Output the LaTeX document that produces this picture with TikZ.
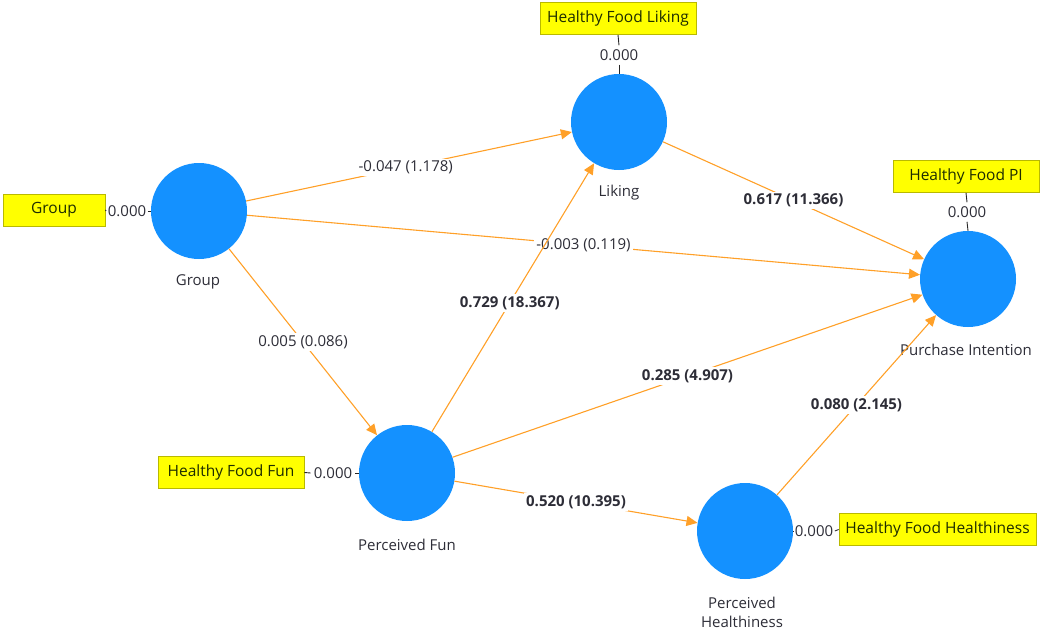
\documentclass[tikz,border=0pt]{standalone}
\usepackage{fontspec}
\setmainfont{Open Sans}
\usetikzlibrary{arrows.meta}
\definecolor{lvblue}{RGB}{20,145,255}
\definecolor{pathorange}{RGB}{255,160,40}
\definecolor{boxyellow}{RGB}{255,255,0}
\definecolor{boxedge}{RGB}{185,185,0}
\definecolor{txt}{RGB}{45,45,55}
\definecolor{boxtxt}{RGB}{30,45,0}
\begin{document}
\begin{tikzpicture}[x=1pt,y=-1pt,
  lv/.style={circle,fill=lvblue,minimum size=96pt,inner sep=0pt},
  lvname/.style={font=\fontsize{15}{19}\selectfont,text=txt,align=center,inner sep=1pt},
  ind/.style={fill=boxyellow,draw=boxedge,line width=0.8pt,font=\fontsize{15.5}{18}\selectfont,text=boxtxt,inner sep=0pt,minimum height=32pt},
  val/.style={font=\fontsize{15}{17}\selectfont,text=txt,inner xsep=1.5pt,inner ysep=4pt},
  tick/.style={draw=black!85,line width=0.9pt},
  path/.style={draw=pathorange,line width=1.1pt,-{Triangle[length=11pt,width=10pt]}},
  coef/.style={font=\fontsize{15}{17}\selectfont,text=txt,fill=white,inner sep=2pt},
  bcoef/.style={coef,font=\fontsize{15}{17}\selectfont\bfseries}
]
\useasboundingbox (0,0) rectangle (1040,632);

% latent variables
\node[lv] (G) at (199,211) {};
\node[lv] (L) at (619,122) {};
\node[lv] (PI) at (968,279) {};
\node[lv] (PF) at (407,473) {};
\node[lv] (PH) at (745,531) {};

\node[lvname] (nG) at (198,282) {Group};
\node[lvname] (nL) at (619,193) {Liking};
\node[lvname] (nPI) at (966,350) {Purchase Intention};
\node[lvname] (nPF) at (407,545) {Perceived Fun};
\node[lvname] (nPH) at (742,612) {Perceived\\Healthiness};

% indicator boxes
\node[ind,minimum width=102pt] (iG) at (54,210) {Group};
\node[ind,minimum width=156pt] (iL) at (618,18.5) {Healthy Food Liking};
\node[ind,minimum width=146pt] (iPI) at (966,176.5) {Healthy Food PI};
\node[ind,minimum width=146pt] (iPF) at (231,472.5) {Healthy Food Fun};
\node[ind,minimum width=197pt] (iPH) at (937.5,529.5) {Healthy Food Healthiness};

% loadings
\node[val] (vG) at (127,211) {0.000};
\node[val] (vL) at (619,55) {0.000};
\node[val] (vPI) at (967,212) {0.000};
\node[val,inner xsep=3pt] (vPF) at (333,473) {0.000};
\node[val] (vPH) at (814,531) {0.000};

\draw[tick] (iG.east) -- (vG.west);
\draw[tick] (vG.east) -- (G.west);
\draw[tick] (iL.south) -- (vL.north);
\draw[tick] (vL.south) -- (L.north);
\draw[tick] (iPI.south) -- (vPI.north);
\draw[tick] (vPI.south) -- (PI.north);
\draw[tick] (iPF.east) -- (vPF.west);
\draw[tick] (vPF.east) -- (PF.west);
\draw[tick] (PH.east) -- (vPH.west);
\draw[tick] (vPH.east) -- (iPH.west);

% structural paths
\draw[path] (G) -- node[coef,pos=0.49] {-0.047 (1.178)} (L);
\draw[path] (G) -- node[coef,pos=0.5] {-0.003 (0.119)} (PI);
\draw[path] (G) -- node[coef,pos=0.5] {0.005 (0.086)} (PF);
\draw[path] (PF) -- node[bcoef,pos=0.48] {0.729 (18.367)} (L);
\draw[path] (PF) -- node[bcoef,pos=0.5] {0.285 (4.907)} (PI);
\draw[path] (PF) -- node[bcoef,pos=0.5] {0.520 (10.395)} (PH);
\draw[path] (L) -- node[bcoef,pos=0.5] {0.617 (11.366)} (PI);
\draw[path] (PH) -- node[bcoef,pos=0.5] {0.080 (2.145)} (PI);
\end{tikzpicture}
\end{document}
